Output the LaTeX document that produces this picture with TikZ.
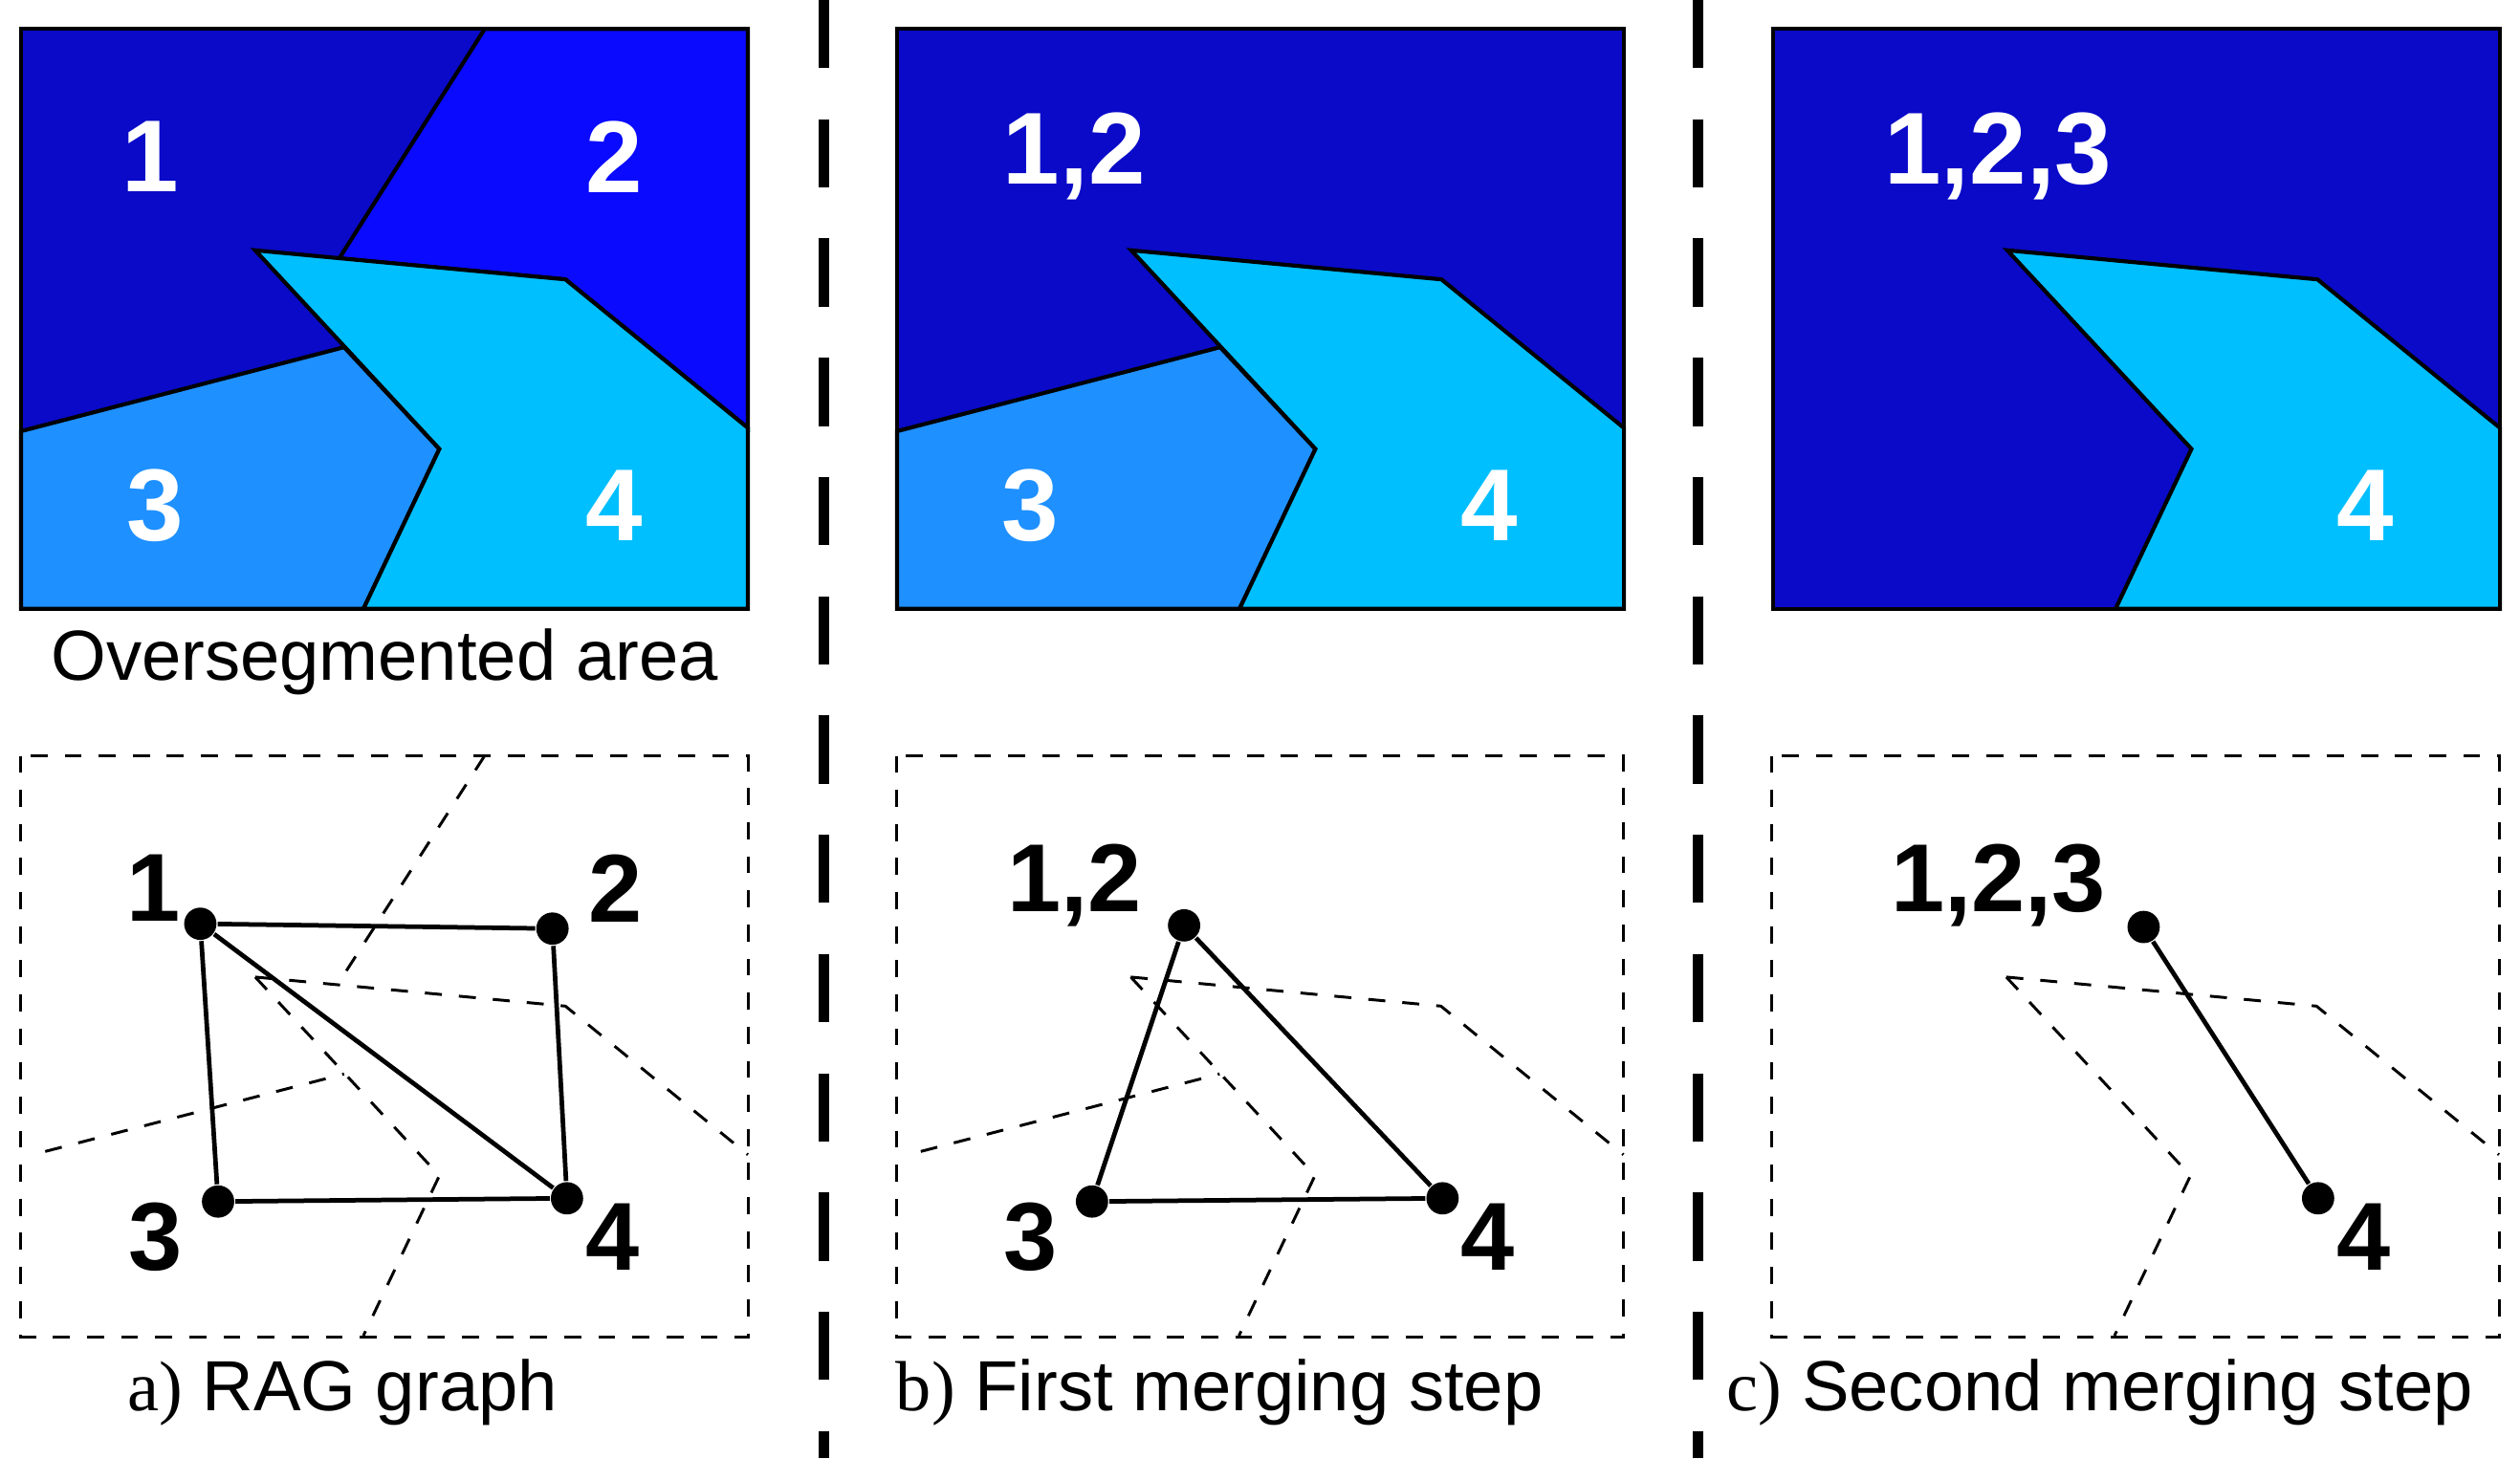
\documentclass[tikz,border=0pt]{standalone}
\usepackage{fontspec}
\setmainfont{Liberation Sans}
\newfontfamily\serifx{Liberation Serif}
\definecolor{cA}{RGB}{10,10,200}
\definecolor{cB}{RGB}{10,10,255}
\definecolor{cC}{RGB}{30,144,255}
\definecolor{cD}{RGB}{0,191,255}
\begin{document}
\begin{tikzpicture}[x=0.01cm,y=-0.01cm,
  reg/.style={draw=black,line width=0.7pt},
  tlab/.style={text=white,draw=none,font=\fontsize{18}{18}\selectfont\bfseries},
  blab/.style={font=\fontsize{17}{17}\selectfont\bfseries},
  dot/.style={circle,fill=black,inner sep=0pt,minimum size=0.2cm},
  edge/.style={line width=0.8pt},
  dl/.style={dashed,line width=0.5pt},
  captxt/.style={font=\fontsize{12.5}{12.5}\selectfont},
  sep/.style={line width=1.8pt,dash pattern=on 12pt off 9pt}]
\useasboundingbox (0,0) rectangle (1560,903);
\draw[sep] (510,0) -- (510,903);
\draw[sep] (1051,0) -- (1051,903);
% panel a top
\begin{scope}
\fill[cA] (13,18) rectangle (463,377);
\filldraw[reg,fill=cB] (300,18) -- (463,18) -- (463,265) -- (350,173) -- (210,160) -- cycle;
\filldraw[reg,fill=cC] (13,267) -- (213,215) -- (272,278) -- (225,377) -- (13,377) -- cycle;
\filldraw[reg,fill=cD] (158,155) -- (350,173) -- (463,265) -- (463,377) -- (225,377) -- (272,278) -- cycle;
\draw[reg] (13,18) rectangle (463,377);
\end{scope}
\node[tlab] (a1) at (93,97) {1};
\node[tlab] (a2) at (380,97) {2};
\node[tlab] (a3) at (96,313) {3};
\node[tlab] (a4) at (380,313) {4};
\node[captxt] (ov) at (238,410) {Oversegmented area};
% panel b top
\begin{scope}[xshift=5.42cm]
\fill[cA] (13,18) rectangle (463,377);
\filldraw[reg,fill=cC] (13,267) -- (213,215) -- (272,278) -- (225,377) -- (13,377) -- cycle;
\filldraw[reg,fill=cD] (158,155) -- (350,173) -- (463,265) -- (463,377) -- (225,377) -- (272,278) -- cycle;
\draw[reg] (13,18) rectangle (463,377);
\end{scope}
\node[tlab] (b12) at (665,97) {1,2};
\node[tlab] (b3) at (638,313) {3};
\node[tlab] (b4) at (922,313) {4};
% panel c top
\begin{scope}[xshift=10.84cm]
\fill[cA] (13,18) rectangle (463,377);
\filldraw[reg,fill=cD] (158,155) -- (350,173) -- (463,265) -- (463,377) -- (225,377) -- (272,278) -- cycle;
\draw[reg] (13,18) rectangle (463,377);
\end{scope}
\node[tlab] (c123) at (1237,97) {1,2,3};
\node[tlab] (c4) at (1464,313) {4};
% bottom frames
\foreach \s in {0,542,1084}{
  \draw[dl] (13+\s,468) rectangle (463+\s,828);
  \draw[dl] (158+\s,605) -- (350+\s,623) -- (463+\s,715);
  \draw[dl] (158+\s,605) -- (272+\s,728) -- (225+\s,827);
}
\draw[dl] (300,468) -- (210,608);
\draw[dl] (28,713) -- (213,665);
\draw[dl] (570,713) -- (755,665);
% graph a
\node[dot] (n1) at (124,572) {};
\node[dot] (n2) at (342,575) {};
\node[dot] (n3) at (135,744) {};
\node[dot] (n4) at (351,742) {};
\draw[edge] (n1)--(n2) (n1)--(n3) (n1)--(n4) (n2)--(n4) (n3)--(n4);
\node[blab] (l1) at (95,550) {1};
\node[blab] (l2) at (381,550) {2};
\node[blab] (l3) at (96,766) {3};
\node[blab] (l4) at (379,766) {4};
% graph b
\node[dot] (m12) at (733,573) {};
\node[dot] (m3) at (676,744) {};
\node[dot] (m4) at (893,742) {};
\draw[edge] (m12)--(m3) (m12)--(m4) (m3)--(m4);
\node[blab] (k12) at (665,548) {1,2};
\node[blab] (k3) at (638,766) {3};
\node[blab] (k4) at (921,766) {4};
% graph c
\node[dot] (p123) at (1327,574) {};
\node[dot] (p4) at (1435,742) {};
\draw[edge] (p123)--(p4);
\node[blab] (q123) at (1237,548) {1,2,3};
\node[blab] (q4) at (1463,766) {4};
% captions
\node[captxt] (ca) at (212,862) {{\serifx a)} RAG graph};
\node[captxt] (cb) at (755,862) {{\serifx b)} First merging step};
\node[captxt] (cc) at (1300,862) {{\serifx c)} Second merging step};
\end{tikzpicture}
\end{document}
